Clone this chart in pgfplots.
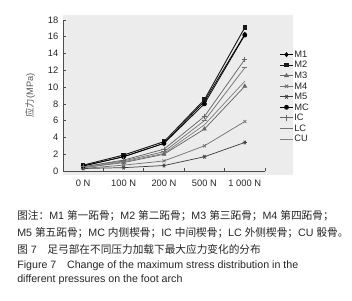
\documentclass[border=0pt]{standalone}
\usepackage{fontspec}
\setmainfont{Liberation Sans}
\newfontfamily\cjk{Noto Sans CJK SC}
\usepackage{pgfplots}
\pgfplotsset{compat=1.18}
\definecolor{bgc}{RGB}{236,236,236}
\begin{document}
\begin{tikzpicture}
\useasboundingbox (0,0) rectangle (264pt,225pt);
\fill[bgc] (47.25pt,93.75pt) rectangle (219.75pt,213.75pt);
\begin{axis}[
  clip=false,
  at={(47.25pt,96.75pt)}, anchor=south west,
  scale only axis, width=151.5pt, height=113.25pt,
  xmin=-0.5, xmax=4.5, ymin=0, ymax=18,
  axis lines*=left,
  axis line style={black!70, line width=0.5pt},
  xtick={-0.5,0.5,1.5,2.5,3.5,4.5},
  xticklabels={0 N,100 N,200 N,500 N,1 000 N},
  x tick label as interval,
  ytick={0,2,...,18},
  tick align=inside, major tick length=2.5pt,
  tick style={black!70, line width=0.5pt},
  /pgf/number format/assume math mode=true,
  tick label style={font=\fontsize{7}{8}\selectfont, text=black!85},
  xticklabel style={yshift=-3pt},
  ylabel={{\cjk 应力}(MPa)},
  ylabel style={at={(axis description cs:-0.163,0.5)}, anchor=center, font=\fontsize{7}{8}\selectfont, text=black!65},
  legend style={at={(axis description cs:1.05,0.82)}, anchor=north west, draw=none, fill=none,
    font=\fontsize{7}{8}\selectfont, text=black!85,
    nodes={inner sep=0.5pt, text height=5pt, text depth=0.8pt}, row sep=1.1pt},
  legend cell align=left,
  legend image code/.code={\draw[mark repeat=2,mark phase=2] plot coordinates {(0pt,0pt) (5pt,0pt) (10pt,0pt)};},
  every axis plot/.append style={line width=0.55pt},
]
\addplot[black, mark=diamond*, mark size=1.5pt] coordinates {(0,0.6) (1,1.7) (2,3.3) (3,8.3) (4,16.3)};
\addlegendentry{M1}
\addplot[black!90, line width=0.7pt, mark=square*, mark size=1.3pt] coordinates {(0,0.7) (1,1.9) (2,3.5) (3,8.5) (4,17.1)};
\addlegendentry{M2}
\addplot[black!60, mark=triangle*, mark size=1.6pt] coordinates {(0,0.4) (1,1.0) (2,2.0) (3,5.0) (4,10.1)};
\addlegendentry{M3}
\addplot[black!55, mark=x, mark size=1.6pt] coordinates {(0,0.3) (1,0.7) (2,1.2) (3,3.0) (4,5.9)};
\addlegendentry{M4}
\addplot[black!75, mark=asterisk, mark options={rotate=90}, mark size=1.6pt] coordinates {(0,0.3) (1,0.4) (2,0.65) (3,1.7) (4,3.4)};
\addlegendentry{M5}
\addplot[black, mark=*, mark size=1.5pt] coordinates {(0,0.6) (1,1.7) (2,3.3) (3,8.0) (4,16.2)};
\addlegendentry{MC}
\addplot[black!60, mark=+, mark size=2pt] coordinates {(0,0.5) (1,1.3) (2,2.6) (3,6.5) (4,13.3)};
\addlegendentry{IC}
\addplot[black!55, mark=-, mark size=2pt] coordinates {(0,0.5) (1,1.2) (2,2.3) (3,6.0) (4,12.3)};
\addlegendentry{LC}
\addplot[black!50] coordinates {(0,0.4) (1,1.1) (2,2.1) (3,5.5) (4,10.7)};
\addlegendentry{CU}
\end{axis}
\begin{scope}[every node/.style={anchor=base west, inner sep=0pt, font=\fontsize{8}{10}\selectfont, text=black!85}]
\node at (12.75pt,60.4pt) {{\cjk 图注：}M1 {\cjk 第一跖骨；}M2 {\cjk 第二跖骨；}M3 {\cjk 第三跖骨；}M4 {\cjk 第四跖骨；}};
\node at (12.75pt,48pt) {M5 {\cjk 第五跖骨；}MC {\cjk 内侧楔骨；}IC {\cjk 中间楔骨；}LC {\cjk 外侧楔骨；}CU {\cjk 骰骨。}};
\node at (12.75pt,35.25pt) {{\cjk 图} 7\hspace{8pt}{\cjk 足弓部在不同压力加载下最大应力变化的分布}};
\node at (12.75pt,23.6pt) {Figure 7\hspace{8pt}Change of the maximum stress distribution in the};
\node at (12.75pt,13.5pt) {different pressures on the foot arch};
\end{scope}
\end{tikzpicture}
\end{document}
